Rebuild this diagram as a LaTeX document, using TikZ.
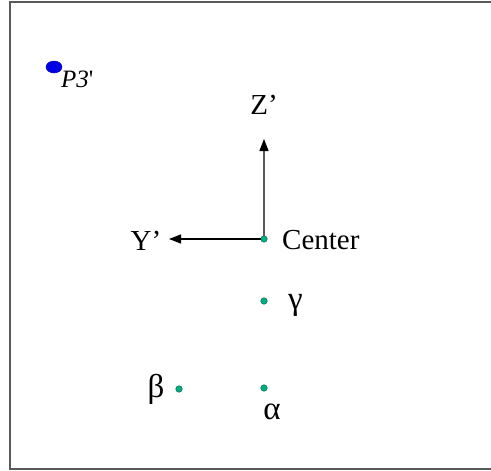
\documentclass[tikz,border=0pt]{standalone}
\usepackage{fontspec}
\setmainfont{Liberation Serif}
\newfontfamily\rawserif{Liberation Serif}
\usetikzlibrary{arrows.meta,shapes.geometric}
\definecolor{dotteal}{RGB}{0,176,130}
\definecolor{dotblue}{RGB}{0,0,230}
\definecolor{framegray}{RGB}{90,90,90}
\tikzset{
  pt/.style={circle,draw=dotteal!60!black,fill=dotteal,inner sep=0pt,minimum size=6.5pt,line width=0.5pt},
  lbl/.style={inner sep=0pt,font=\fontsize{29}{31}\selectfont},
  greek/.style={inner sep=0pt,font=\fontsize{33}{35}\selectfont},
  axis/.style={-{Triangle[length=12pt,width=9pt,color=black]},line width=1.2pt}
}
\begin{document}
\begin{tikzpicture}[x=1pt,y=-1pt]
\useasboundingbox (0,0) rectangle (491,471);
\draw[framegray,line width=2pt] (495,2) -- (9.5,2) -- (9.5,469) -- (495,469);
% P3'
\node[ellipse,fill=dotblue,draw=dotblue!70!black,inner sep=0pt,minimum width=16pt,minimum height=12pt] (p3) at (54,67) {};
\node[lbl,anchor=base west] (p3l) at (61,87) {\fontsize{25}{27}\selectfont\itshape P3\upshape\rawserif '};
% center and axes
\node[pt] (c) at (264,239) {};
\coordinate (zt) at (264,139);
\coordinate (yt) at (169,239);
\draw[axis,draw=gray!70!black] (c) -- (zt);
\draw[axis] (c) -- (yt);
\node[lbl,anchor=base] (zl) at (264,114) {Z’};
\node[lbl,anchor=base] (yl) at (146,250) {Y’};
\node[lbl,anchor=base west] (cl) at (282,249) {Center};
% points
\node[pt] (g) at (264,301) {};
\node[greek,anchor=base west] (gl) at (288,309) {γ};
\node[pt] (b) at (179,389) {};
\node[greek,anchor=base] (bl) at (156,397) {β};
\node[pt] (a) at (264,388) {};
\node[greek,anchor=base] (al) at (272,419) {α};
\end{tikzpicture}
\end{document}
